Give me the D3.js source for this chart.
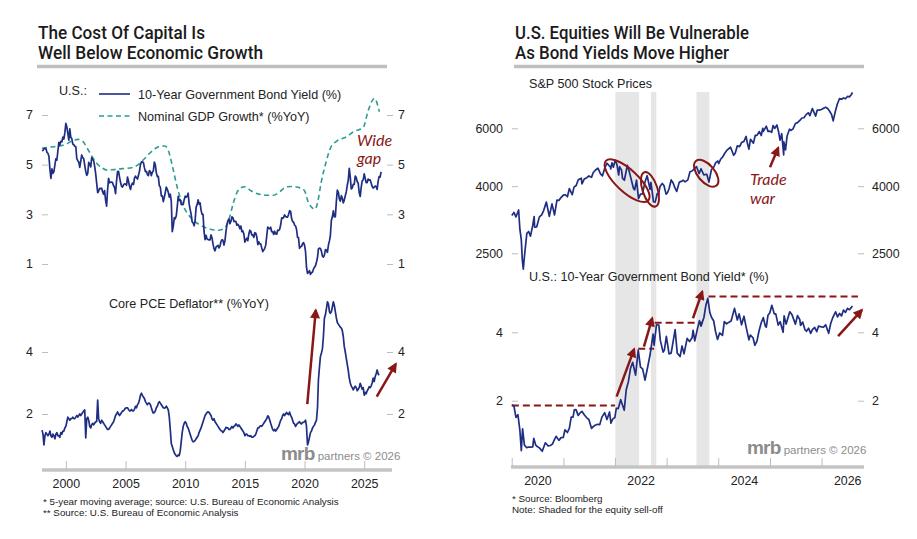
<!DOCTYPE html>
<html>
<head>
<meta charset="utf-8">
<script src="https://cdn.jsdelivr.net/npm/d3@7.9.0/dist/d3.min.js"></script>
<style>
  body { margin: 0; background: #fff; }
  svg { display: block; font-family: 'Liberation Sans', Arial, sans-serif; }
  .title { font-family: Roboto, 'Liberation Sans', sans-serif; font-weight: 500; font-size: 17.5px; fill: #1b1b1b; }
  .lbl { font-size: 12.6px; fill: #222; }
  .note { font-size: 9.8px; fill: #222; }
  .anno { font-family: Lato, 'Open Sans', sans-serif; font-style: italic; font-size: 16px; fill: #8a1717; }
</style>
</head>
<body>
<svg id="chart" width="917" height="539"></svg>
<script>
// ---------- data ----------
// U.S. 10-year Treasury yield, monthly from Jan 1998
const bondYieldMonthly = [
  5.56, 5.57, 5.65, 5.64, 5.65, 5.50, 5.46, 5.34, 4.81, 4.45, 4.83, 4.65,
  4.72, 5.00, 5.23, 5.18, 5.54, 5.90, 5.79, 5.94, 5.92, 6.11, 6.03, 6.28,
  6.66, 6.52, 6.26, 5.99, 6.44, 6.10, 6.05, 5.83, 5.80, 5.74, 5.72, 5.24,
  5.16, 5.10, 4.89, 5.14, 5.39, 5.28, 5.24, 4.97, 4.73, 4.57, 4.65, 5.09,
  5.04, 4.91, 5.28, 5.21, 5.16, 4.93, 4.65, 4.26, 3.87, 3.94, 4.05, 4.03,
  4.05, 3.90, 3.81, 3.96, 3.57, 3.33, 3.98, 4.45, 4.27, 4.29, 4.30, 4.27,
  4.15, 4.08, 3.83, 4.35, 4.72, 4.73, 4.50, 4.28, 4.13, 4.10, 4.19, 4.23,
  4.22, 4.17, 4.50, 4.34, 4.14, 4.00, 4.18, 4.26, 4.20, 4.46, 4.54, 4.47,
  4.42, 4.57, 4.72, 4.99, 5.11, 5.11, 5.09, 4.88, 4.72, 4.73, 4.60, 4.56,
  4.76, 4.72, 4.56, 4.69, 4.75, 5.10, 5.00, 4.67, 4.52, 4.53, 4.15, 4.10,
  3.74, 3.74, 3.51, 3.68, 3.88, 4.10, 4.01, 3.89, 3.69, 3.81, 3.53, 2.30,
  2.52, 2.87, 2.82, 2.93, 3.29, 3.72, 3.56, 3.59, 3.40, 3.39, 3.40, 3.59,
  3.73, 3.69, 3.73, 3.85, 3.42, 3.20, 3.01, 2.70, 2.65, 2.54, 2.76, 3.29,
  3.39, 3.58, 3.41, 3.46, 3.17, 3.00, 3.00, 2.30, 1.98, 2.15, 2.01, 1.98,
  1.97, 1.97, 2.17, 2.05, 1.80, 1.62, 1.53, 1.68, 1.72, 1.75, 1.65, 1.72,
  1.91, 1.98, 1.96, 1.76, 1.93, 2.30, 2.58, 2.74, 2.81, 2.62, 2.72, 2.90,
  2.86, 2.71, 2.72, 2.71, 2.56, 2.60, 2.54, 2.42, 2.53, 2.30, 2.33, 2.21,
  1.88, 1.98, 2.04, 1.94, 2.20, 2.36, 2.32, 2.17, 2.17, 2.07, 2.26, 2.24,
  2.09, 1.78, 1.89, 1.81, 1.81, 1.64, 1.50, 1.56, 1.63, 1.76, 2.14, 2.49,
  2.43, 2.42, 2.48, 2.30, 2.30, 2.19, 2.32, 2.21, 2.20, 2.36, 2.35, 2.40,
  2.58, 2.86, 2.84, 2.87, 2.98, 2.91, 2.89, 2.89, 3.00, 3.15, 3.12, 2.83,
  2.71, 2.68, 2.57, 2.53, 2.40, 2.07, 2.06, 1.63, 1.70, 1.71, 1.81, 1.86,
  1.76, 1.50, 0.87, 0.62, 0.67, 0.73, 0.58, 0.65, 0.68, 0.79, 0.87, 0.93,
  1.08, 1.26, 1.61, 1.64, 1.62, 1.52, 1.32, 1.28, 1.37, 1.58, 1.56, 1.47,
  1.76, 1.93, 2.13, 2.75, 2.90, 3.14, 2.90, 2.90, 3.52, 3.98, 3.89, 3.62,
  3.53, 3.75, 3.66, 3.46, 3.57, 3.75, 3.90, 4.17, 4.38, 4.85, 4.50, 4.02,
  4.06, 4.21, 4.21, 4.54, 4.48, 4.31, 4.25, 3.87, 3.72, 4.10, 4.36, 4.39,
  4.63, 4.45, 4.28, 4.28, 4.42, 4.38, 4.39, 4.26, 4.12, 4.06, 4.09, 4.14,
  4.12, 4.00, 4.33, 4.52, 4.50, 4.71
];

// nominal GDP growth, 5-year moving average (decimal year, %)
const gdpGrowth5y = [
  [1998.0, 5.66], [1998.5, 5.70], [1999.0, 5.72], [1999.5, 5.75], [2000.0, 5.82],
  [2000.5, 5.95], [2001.0, 6.02], [2001.4, 5.95], [2001.8, 5.65], [2002.2, 5.32],
  [2002.6, 5.05], [2003.0, 4.88], [2003.5, 4.78], [2004.0, 4.80], [2004.5, 4.83],
  [2005.0, 4.85], [2005.6, 4.89], [2006.0, 4.98], [2006.5, 5.20], [2007.0, 5.45],
  [2007.5, 5.65], [2008.0, 5.75], [2008.3, 5.75], [2008.6, 5.55], [2008.9, 5.00],
  [2009.3, 4.15], [2009.7, 3.50], [2010.1, 3.10], [2010.6, 2.80], [2011.2, 2.58],
  [2011.8, 2.45], [2012.3, 2.38], [2012.8, 2.36], [2013.3, 2.45], [2013.7, 2.85],
  [2014.0, 3.40], [2014.3, 3.84], [2014.7, 4.08], [2015.0, 4.11], [2015.5, 3.95],
  [2016.0, 3.84], [2016.8, 3.77], [2017.4, 3.77], [2017.9, 3.90], [2018.5, 4.11],
  [2019.0, 4.12], [2019.7, 4.05], [2020.0, 3.95], [2020.3, 3.50], [2020.6, 3.28],
  [2020.9, 3.21], [2021.1, 3.50], [2021.4, 4.30], [2021.8, 5.10], [2022.2, 5.70],
  [2022.7, 5.95], [2023.5, 6.12], [2024.2, 6.35], [2024.9, 6.48], [2025.35, 7.20],
  [2025.85, 7.67], [2026.27, 7.13]
];

// core PCE deflator, %YoY, monthly from Jan 1998
const corePce = [
  1.48, 1.35, 1.00, 1.30, 1.40, 1.35, 1.30, 1.35, 1.45, 1.30, 1.25, 1.35,
  1.30, 1.20, 1.35, 1.40, 1.30, 1.30, 1.25, 1.40, 1.35, 1.45, 1.45, 1.55,
  1.60, 1.75, 1.90, 1.85, 1.80, 1.85, 1.85, 1.90, 1.85, 1.85, 1.90, 1.95,
  1.90, 1.95, 2.00, 1.95, 2.00, 2.05, 2.10, 2.13, 1.23, 1.85, 1.90, 1.80,
  1.60, 1.55, 1.65, 1.70, 1.65, 1.70, 1.75, 1.75, 2.45, 1.85, 1.75, 1.70,
  1.80, 1.75, 1.70, 1.65, 1.60, 1.55, 1.50, 1.50, 1.55, 1.60, 1.65, 1.70,
  1.75, 1.85, 1.95, 2.00, 2.07, 2.00, 1.95, 2.00, 2.05, 2.10, 2.10, 2.15,
  2.19, 2.20, 2.20, 2.15, 2.10, 2.10, 2.15, 2.10, 2.10, 2.15, 2.25, 2.20,
  2.30, 2.35, 2.45, 2.60, 2.67, 2.60, 2.55, 2.50, 2.40, 2.35, 2.30, 2.35,
  2.35, 2.30, 2.20, 2.10, 2.03, 2.05, 2.10, 2.20, 2.25, 2.35, 2.40, 2.35,
  2.30, 2.25, 2.20, 2.19, 2.20, 2.25, 2.20, 2.13, 1.90, 1.50, 1.05, 0.95,
  0.85, 0.75, 0.70, 0.65, 0.63, 0.68, 0.66, 0.80, 1.10, 1.40, 1.60, 1.70,
  1.75, 1.70, 1.60, 1.55, 1.45, 1.35, 1.25, 1.15, 1.10, 1.12, 1.15, 1.20,
  1.25, 1.30, 1.40, 1.48, 1.55, 1.65, 1.75, 1.85, 1.95, 2.00, 2.05, 2.07,
  2.05, 2.00, 1.95, 1.84, 1.80, 1.85, 1.75, 1.70, 1.65, 1.60, 1.55, 1.50,
  1.46, 1.45, 1.40, 1.45, 1.50, 1.57, 1.55, 1.55, 1.50, 1.50, 1.55, 1.60,
  1.55, 1.60, 1.62, 1.68, 1.65, 1.60, 1.65, 1.60, 1.55, 1.50, 1.45, 1.40,
  1.30, 1.35, 1.35, 1.30, 1.30, 1.28, 1.30, 1.25, 1.25, 1.28, 1.30, 1.35,
  1.45, 1.55, 1.55, 1.60, 1.62, 1.60, 1.65, 1.70, 1.75, 1.80, 1.85, 1.94,
  1.90, 1.80, 1.70, 1.60, 1.50, 1.46, 1.50, 1.45, 1.50, 1.55, 1.60, 1.70,
  1.80, 1.85, 1.95, 2.00, 1.95, 2.00, 2.05, 2.00, 1.98, 2.06, 1.95, 1.90,
  1.80, 1.70, 1.68, 1.60, 1.65, 1.70, 1.72, 1.75, 1.70, 1.68, 1.73, 1.73,
  1.75, 1.80, 1.60, 1.00, 1.10, 1.25, 1.40, 1.45, 1.55, 1.60, 1.65, 1.73,
  1.80, 2.20, 3.10, 3.50, 3.85, 3.97, 4.10, 4.50, 5.10, 5.20, 5.40, 5.62,
  5.55, 5.30, 5.25, 5.30, 5.45, 5.62, 5.50, 5.30, 5.10, 4.95, 4.90, 4.85,
  4.80, 4.77, 4.70, 4.50, 4.18, 4.00, 3.80, 3.60, 3.40, 3.16, 3.00, 2.90,
  2.85, 2.78, 2.85, 2.90, 2.85, 2.75, 2.80, 2.85, 2.99, 2.90, 2.80, 2.85,
  2.61, 2.70, 2.65, 2.75, 2.80, 2.88, 2.85, 2.90, 3.00, 3.16, 3.05, 3.20,
  3.30, 3.42, 3.30, 3.25
];

// S&P 500 index level
const spx = [
  ['2020-01-02', 3258], ['2020-01-17', 3330], ['2020-01-31', 3225], ['2020-02-19', 3386],
  ['2020-02-28', 2954], ['2020-03-09', 2747], ['2020-03-16', 2386], ['2020-03-23', 2237],
  ['2020-04-01', 2470], ['2020-04-17', 2875], ['2020-04-30', 2912], ['2020-05-13', 2820],
  ['2020-05-29', 3044], ['2020-06-08', 3232], ['2020-06-11', 3002], ['2020-06-26', 3009],
  ['2020-07-15', 3227], ['2020-07-31', 3271], ['2020-08-14', 3373], ['2020-09-02', 3580],
  ['2020-09-23', 3237], ['2020-10-12', 3534], ['2020-10-30', 3270], ['2020-11-16', 3627],
  ['2020-11-30', 3622], ['2020-12-15', 3694], ['2020-12-31', 3756],
  ['2021-01-15', 3768], ['2021-01-29', 3714], ['2021-02-12', 3934], ['2021-03-04', 3768],
  ['2021-03-17', 3974], ['2021-04-01', 4020], ['2021-04-16', 4185], ['2021-05-07', 4232],
  ['2021-05-12', 4063], ['2021-05-28', 4204], ['2021-06-15', 4246], ['2021-06-30', 4297],
  ['2021-07-19', 4258], ['2021-07-30', 4395], ['2021-08-16', 4479], ['2021-09-02', 4537],
  ['2021-09-20', 4358], ['2021-10-04', 4300], ['2021-10-21', 4549], ['2021-11-05', 4697],
  ['2021-11-30', 4567], ['2021-12-01', 4513], ['2021-12-10', 4712], ['2021-12-20', 4568],
  ['2021-12-31', 4766],
  ['2022-01-03', 4796], ['2022-01-14', 4662], ['2022-01-27', 4326], ['2022-02-02', 4589],
  ['2022-02-16', 4475], ['2022-02-23', 4225], ['2022-03-08', 4170], ['2022-03-29', 4631],
  ['2022-04-14', 4392], ['2022-04-29', 4132], ['2022-05-12', 3930], ['2022-05-20', 3901],
  ['2022-06-02', 4176], ['2022-06-16', 3667], ['2022-06-30', 3785], ['2022-07-14', 3790],
  ['2022-08-01', 4118], ['2022-08-16', 4305], ['2022-09-06', 3908], ['2022-09-12', 4110],
  ['2022-09-30', 3586], ['2022-10-12', 3577], ['2022-10-27', 3807], ['2022-11-04', 3770],
  ['2022-11-15', 3991], ['2022-12-01', 4076], ['2022-12-13', 4019], ['2022-12-28', 3783],
  ['2023-01-05', 3808], ['2023-01-18', 3928], ['2023-02-02', 4179], ['2023-02-16', 4090],
  ['2023-03-01', 3951], ['2023-03-13', 3855], ['2023-03-31', 4109], ['2023-04-14', 4137],
  ['2023-04-28', 4169], ['2023-05-12', 4124], ['2023-05-31', 4180], ['2023-06-15', 4425],
  ['2023-06-30', 4450], ['2023-07-14', 4505], ['2023-07-31', 4589], ['2023-08-18', 4370],
  ['2023-09-01', 4515], ['2023-09-21', 4330], ['2023-10-12', 4349], ['2023-10-27', 4117],
  ['2023-11-14', 4496], ['2023-11-30', 4568], ['2023-12-14', 4719], ['2023-12-29', 4770],
  ['2024-01-04', 4688], ['2024-01-19', 4840], ['2024-02-01', 4906], ['2024-02-15', 5029],
  ['2024-03-01', 5137], ['2024-03-28', 5254], ['2024-04-19', 4967], ['2024-04-30', 5036],
  ['2024-05-15', 5308], ['2024-05-31', 5278], ['2024-06-14', 5431], ['2024-07-01', 5475],
  ['2024-07-16', 5667], ['2024-07-25', 5400], ['2024-08-05', 5186], ['2024-08-16', 5554],
  ['2024-09-06', 5408], ['2024-09-19', 5713], ['2024-10-01', 5709], ['2024-10-18', 5865],
  ['2024-10-31', 5705], ['2024-11-11', 6001], ['2024-11-15', 5870], ['2024-12-06', 6090],
  ['2024-12-18', 5872], ['2024-12-31', 5882],
  ['2025-01-13', 5836], ['2025-01-23', 6119], ['2025-02-03', 5994], ['2025-02-19', 6144],
  ['2025-03-03', 5849], ['2025-03-13', 5521], ['2025-03-25', 5777], ['2025-04-08', 4982],
  ['2025-04-09', 5457], ['2025-04-21', 5158], ['2025-05-02', 5687], ['2025-05-19', 5963],
  ['2025-05-30', 5912], ['2025-06-13', 5977], ['2025-06-30', 6205], ['2025-07-15', 6244],
  ['2025-07-31', 6339], ['2025-08-15', 6449], ['2025-08-29', 6460], ['2025-09-15', 6615],
  ['2025-09-30', 6688], ['2025-10-10', 6553], ['2025-10-28', 6890], ['2025-11-20', 6538],
  ['2025-12-01', 6812], ['2025-12-15', 6816], ['2025-12-31', 6845],
  ['2026-01-15', 6900], ['2026-01-30', 6950], ['2026-02-13', 6890], ['2026-02-27', 6760],
  ['2026-03-13', 6600], ['2026-03-24', 6320], ['2026-04-08', 6750], ['2026-04-22', 7100],
  ['2026-05-08', 7390], ['2026-05-22', 7350], ['2026-06-05', 7420], ['2026-06-19', 7380],
  ['2026-07-03', 7500], ['2026-07-17', 7480], ['2026-07-31', 7600], ['2026-08-07', 7720]
];

// U.S. 10-year yield, higher frequency for 2020 onward
const bondYield = [
  ['2020-01-02', 1.88], ['2020-01-17', 1.84], ['2020-01-31', 1.51], ['2020-02-14', 1.59],
  ['2020-02-28', 1.13], ['2020-03-09', 0.54], ['2020-03-18', 1.18], ['2020-03-31', 0.70],
  ['2020-04-15', 0.63], ['2020-04-30', 0.64], ['2020-05-15', 0.64], ['2020-05-29', 0.65],
  ['2020-06-05', 0.90], ['2020-06-19', 0.70], ['2020-06-30', 0.66], ['2020-07-15', 0.62],
  ['2020-08-04', 0.52], ['2020-08-26', 0.77], ['2020-09-15', 0.68], ['2020-09-30', 0.69],
  ['2020-10-15', 0.73], ['2020-10-30', 0.87], ['2020-11-10', 0.96], ['2020-11-30', 0.84],
  ['2020-12-15', 0.92], ['2020-12-31', 0.93],
  ['2021-01-12', 1.15], ['2021-01-29', 1.07], ['2021-02-12', 1.20], ['2021-02-25', 1.52],
  ['2021-03-10', 1.52], ['2021-03-19', 1.73], ['2021-03-31', 1.74], ['2021-04-15', 1.57],
  ['2021-04-30', 1.65], ['2021-05-12', 1.69], ['2021-05-28', 1.59], ['2021-06-15', 1.50],
  ['2021-06-30', 1.45], ['2021-07-19', 1.19], ['2021-07-30', 1.24], ['2021-08-13', 1.28],
  ['2021-08-31', 1.31], ['2021-09-15', 1.30], ['2021-09-30', 1.52], ['2021-10-20', 1.65],
  ['2021-11-05', 1.45], ['2021-11-23', 1.67], ['2021-12-03', 1.34], ['2021-12-15', 1.46],
  ['2021-12-31', 1.51],
  ['2022-01-10', 1.78], ['2022-01-24', 1.77], ['2022-02-10', 2.03], ['2022-03-07', 1.72],
  ['2022-03-21', 2.32], ['2022-04-05', 2.55], ['2022-04-20', 2.94], ['2022-05-06', 3.12],
  ['2022-05-26', 2.75], ['2022-06-14', 3.48], ['2022-06-30', 2.98], ['2022-07-15', 2.93],
  ['2022-08-01', 2.60], ['2022-08-22', 3.03], ['2022-09-06', 3.35], ['2022-09-27', 3.95],
  ['2022-10-04', 3.62], ['2022-10-21', 4.22], ['2022-11-07', 4.21], ['2022-11-17', 3.77],
  ['2022-12-07', 3.42], ['2022-12-16', 3.48], ['2022-12-30', 3.88],
  ['2023-01-18', 3.37], ['2023-02-02', 3.39], ['2023-03-02', 4.08], ['2023-03-17', 3.39],
  ['2023-04-06', 3.29], ['2023-04-20', 3.60], ['2023-05-04', 3.37], ['2023-05-26', 3.82],
  ['2023-06-12', 3.73], ['2023-06-30', 3.84], ['2023-07-07', 4.06], ['2023-07-19', 3.75],
  ['2023-08-04', 4.05], ['2023-08-21', 4.34], ['2023-09-01', 4.18], ['2023-09-22', 4.44],
  ['2023-10-06', 4.80], ['2023-10-19', 4.99], ['2023-11-03', 4.57], ['2023-11-14', 4.44],
  ['2023-11-30', 4.33], ['2023-12-13', 4.02], ['2023-12-27', 3.79],
  ['2024-01-11', 3.98], ['2024-01-31', 3.91], ['2024-02-13', 4.31], ['2024-02-29', 4.25],
  ['2024-03-14', 4.29], ['2024-04-01', 4.33], ['2024-04-25', 4.70], ['2024-05-15', 4.36],
  ['2024-05-28', 4.54], ['2024-06-14', 4.22], ['2024-07-01', 4.47], ['2024-07-16', 4.16],
  ['2024-08-05', 3.78], ['2024-08-15', 3.92], ['2024-09-03', 3.84], ['2024-09-16', 3.62],
  ['2024-10-01', 3.74], ['2024-10-15', 4.03], ['2024-10-31', 4.28], ['2024-11-15', 4.43],
  ['2024-11-29', 4.18], ['2024-12-06', 4.15], ['2024-12-18', 4.50], ['2024-12-31', 4.57],
  ['2025-01-14', 4.79], ['2025-01-31', 4.54], ['2025-02-11', 4.54], ['2025-02-28', 4.21],
  ['2025-03-14', 4.31], ['2025-04-04', 4.00], ['2025-04-11', 4.48], ['2025-04-25', 4.24],
  ['2025-05-21', 4.60], ['2025-06-06', 4.51], ['2025-06-30', 4.24], ['2025-07-15', 4.49],
  ['2025-07-31', 4.37], ['2025-08-05', 4.20], ['2025-08-20', 4.30], ['2025-09-05', 4.08],
  ['2025-09-16', 4.03], ['2025-10-01', 4.12], ['2025-10-16', 3.97], ['2025-10-30', 4.09],
  ['2025-11-14', 4.14], ['2025-11-28', 4.02], ['2025-12-10', 4.18], ['2025-12-31', 4.16],
  ['2026-01-15', 4.15], ['2026-01-30', 4.22], ['2026-02-13', 4.05], ['2026-02-20', 3.97],
  ['2026-03-06', 4.25], ['2026-03-20', 4.42], ['2026-04-10', 4.60], ['2026-04-24', 4.45],
  ['2026-05-08', 4.55], ['2026-05-22', 4.48], ['2026-06-05', 4.65], ['2026-06-19', 4.58],
  ['2026-07-03', 4.70], ['2026-07-17', 4.66], ['2026-07-31', 4.73], ['2026-08-07', 4.77]
];

// equity sell-off periods (shaded)
const selloffs = [['2022-01-03', '2022-06-20'], ['2022-09-12', '2022-10-20'], ['2023-07-31', '2023-10-30']];
// previous yield highs (dashed)
const yieldHighs = [
  ['2020-01-02', '2022-01-01', 1.86], ['2022-06-14', '2022-10-04', 3.52],
  ['2022-10-08', '2023-09-12', 4.28], ['2023-10-24', '2026-09-15', 5.05]
];

const leftYearTicks = [2000, 2005, 2010, 2015, 2020, 2025];
const rightYearTicks = [2020, 2021, 2022, 2023, 2024, 2025, 2026];
const rightYearLabels = [2020, 2022, 2024, 2026];
const yieldTicksTop = [1, 3, 5, 7];
const pceTicks = [2, 4];
const spxTicks = [2500, 4000, 6000];
const bondTicksRight = [2, 4];

// ---------- helpers ----------
const navy = '#1f2e82', teal = '#2e9c92', red = '#8a1717', tickGray = '#bdbdbd', barGray = '#c4c4c4';
const parse = d3.timeParse('%Y-%m-%d');
const fmt = d3.format('d');
const decYear = (y) => {
  const yr = Math.floor(y);
  const a = new Date(yr, 0, 1), b = new Date(yr + 1, 0, 1);
  return new Date(+a + (y - yr) * (b - a));
};
const monthly = (arr, startYear) => arr.map((v, i) => ({ date: new Date(startYear, i, 1), value: v }));
const dated = (arr) => arr.map(([d, v]) => ({ date: parse(d), value: v }));

const svg = d3.select('#chart');
svg.append('rect').attr('width', 917).attr('height', 539).attr('fill', '#fff');

const defs = svg.append('defs');
defs.append('marker')
  .attr('id', 'head')
  .attr('markerUnits', 'userSpaceOnUse')
  .attr('viewBox', '0 0 10 10')
  .attr('markerWidth', 11).attr('markerHeight', 10)
  .attr('refX', 8).attr('refY', 5)
  .attr('orient', 'auto')
  .append('path').attr('d', 'M0,0 L10,5 L0,10 z').attr('fill', red);

function styleAxis(g) {
  g.select('.domain').remove();
  g.selectAll('.tick line').attr('stroke', tickGray);
  g.selectAll('.tick text').attr('fill', '#222').attr('font-size', 12.4);
}

function drawLine(data, x, y, color, width, dash, curve) {
  const line = d3.line().x((d) => x(d.date)).y((d) => y(d.value));
  if (curve) line.curve(curve);
  svg.append('path')
    .datum(data)
    .attr('d', line)
    .attr('fill', 'none')
    .attr('stroke', color)
    .attr('stroke-width', width)
    .attr('stroke-linejoin', 'round')
    .attr('stroke-dasharray', dash || null);
}

function arrow(x1, y1, x2, y2) {
  svg.append('line')
    .attr('x1', x1).attr('y1', y1).attr('x2', x2).attr('y2', y2)
    .attr('stroke', red).attr('stroke-width', 2.5)
    .attr('marker-end', 'url(#head)');
}

function logo(x, y) {
  const t = svg.append('text').attr('x', x).attr('y', y).attr('fill', '#8c8c8c');
  t.append('tspan').text('mrb').attr('font-size', 19).attr('font-weight', 'bold').attr('letter-spacing', -0.8);
  t.append('tspan').text(' partners © 2026').attr('font-size', 11.5);
}

// widths of the title lines
function header(x, x2, lines, widths) {
  lines.forEach((s, i) => {
    svg.append('text').attr('class', 'title')
      .attr('x', x).attr('y', 39 + i * 20)
      .attr('textLength', widths[i]).attr('lengthAdjust', 'spacingAndGlyphs')
      .text(s);
  });
  svg.append('line').attr('x1', x - 1).attr('x2', x2).attr('y1', 66.5).attr('y2', 66.5)
    .attr('stroke', '#bfbfbf').attr('stroke-width', 3.5);
}

// ---------- left panel ----------
header(38, 387, ['The Cost Of Capital Is', 'Well Below Economic Growth'], [167, 225]);

const xL = d3.scaleTime().domain([new Date(1998, 0, 1), new Date(2027, 4, 1)]).range([42, 392]);
const yTop = d3.scaleLinear().domain([1, 7]).range([264, 115]);
const yBot = d3.scaleLinear().domain([2, 4]).range([414, 352]);

svg.append('g').attr('transform', 'translate(48,0)')
  .call(d3.axisLeft(yTop).tickValues(yieldTicksTop).tickFormat(fmt).tickSize(6).tickPadding(9)).call(styleAxis);
svg.append('g').attr('transform', 'translate(387,0)')
  .call(d3.axisRight(yTop).tickValues(yieldTicksTop).tickFormat(fmt).tickSize(6).tickPadding(5)).call(styleAxis);
svg.append('g').attr('transform', 'translate(48,0)')
  .call(d3.axisLeft(yBot).tickValues(pceTicks).tickFormat(fmt).tickSize(6).tickPadding(9)).call(styleAxis);
svg.append('g').attr('transform', 'translate(387,0)')
  .call(d3.axisRight(yBot).tickValues(pceTicks).tickFormat(fmt).tickSize(6).tickPadding(5)).call(styleAxis);

drawLine(gdpGrowth5y.map(([y, v]) => ({ date: decYear(y), value: v })), xL, yTop, teal, 1.6, '5,3.5', d3.curveMonotoneX);
drawLine(monthly(bondYieldMonthly, 1998), xL, yTop, navy, 1.7);
drawLine(monthly(corePce, 1998), xL, yBot, navy, 1.7);

// legend
svg.append('text').attr('class', 'lbl').attr('x', 59).attr('y', 95).text('U.S.:');
svg.append('line').attr('x1', 99).attr('x2', 130).attr('y1', 94).attr('y2', 94).attr('stroke', navy).attr('stroke-width', 1.6);
svg.append('text').attr('class', 'lbl').attr('x', 138).attr('y', 98.5).text('10-Year Government Bond Yield (%)');
svg.append('line').attr('x1', 99).attr('x2', 130).attr('y1', 116).attr('y2', 116).attr('stroke', teal).attr('stroke-width', 1.6).attr('stroke-dasharray', '5,3.5');
svg.append('text').attr('class', 'lbl').attr('x', 138).attr('y', 120.5).text('Nominal GDP Growth* (%YoY)');

svg.append('text').attr('class', 'anno').attr('x', 357).attr('y', 146).text('Wide');
svg.append('text').attr('class', 'anno').attr('x', 357).attr('y', 164).text('gap');

svg.append('text').attr('class', 'lbl').attr('x', 109).attr('y', 308).text('Core PCE Deflator** (%YoY)');

// inflation arrows
arrow(xL(decYear(2020.23)), yBot(2.32), xL(decYear(2020.94)), yBot(5.35));
arrow(xL(decYear(2026.05)), yBot(2.56), xL(decYear(2027.64)), yBot(3.61));

logo(281, 460);

// x axis
svg.append('line').attr('x1', 42).attr('x2', 392).attr('y1', 470).attr('y2', 470).attr('stroke', barGray).attr('stroke-width', 3.5);
svg.append('g').attr('transform', 'translate(0,470)')
  .call(d3.axisBottom(xL).tickValues(leftYearTicks.map((y) => new Date(y, 0, 1))).tickSizeInner(-9).tickSizeOuter(0).tickPadding(9).tickFormat(d3.timeFormat('%Y')))
  .call(styleAxis);

svg.append('text').attr('class', 'note').attr('x', 43).attr('y', 505).text('*  5-year moving average; source: U.S. Bureau of Economic Analysis');
svg.append('text').attr('class', 'note').attr('x', 43).attr('y', 516).text('** Source: U.S. Bureau of Economic Analysis');

// ---------- right panel ----------
header(515, 864, ['U.S. Equities Will Be Vulnerable', 'As Bond Yields Move Higher'], [234, 214]);

const xR = d3.scaleTime().domain([new Date(2020, 0, 1), new Date(2026, 9, 28)]).range([511.7, 864]);
const yS = d3.scaleLog().domain([2500, 6000]).range([253.3, 128.3]);
const yB = d3.scaleLinear().domain([2, 4]).range([400.7, 332.3]);

svg.append('g').selectAll('rect')
  .data(selloffs)
  .join('rect')
  .attr('x', (d) => xR(parse(d[0])))
  .attr('width', (d) => xR(parse(d[1])) - xR(parse(d[0])))
  .attr('y', 92)
  .attr('height', 466 - 92)
  .attr('fill', '#e6e6e6');

svg.append('g').attr('transform', 'translate(518,0)')
  .call(d3.axisLeft(yS).tickValues(spxTicks).tickFormat(fmt).tickSize(6).tickPadding(9)).call(styleAxis);
svg.append('g').attr('transform', 'translate(858,0)')
  .call(d3.axisRight(yS).tickValues(spxTicks).tickFormat(fmt).tickSize(6).tickPadding(8)).call(styleAxis);
svg.append('g').attr('transform', 'translate(518,0)')
  .call(d3.axisLeft(yB).tickValues(bondTicksRight).tickFormat(fmt).tickSize(6).tickPadding(9)).call(styleAxis);
svg.append('g').attr('transform', 'translate(858,0)')
  .call(d3.axisRight(yB).tickValues(bondTicksRight).tickFormat(fmt).tickSize(6).tickPadding(8)).call(styleAxis);

svg.append('text').attr('class', 'lbl').attr('x', 529).attr('y', 88).text('S&P 500 Stock Prices');
svg.append('text').attr('class', 'lbl').attr('x', 529).attr('y', 281).text('U.S.: 10-Year Government Bond Yield* (%)');

// prior-high dashes
yieldHighs.forEach(([a, b, v]) => {
  svg.append('line')
    .attr('x1', xR(parse(a))).attr('x2', xR(parse(b)))
    .attr('y1', yB(v)).attr('y2', yB(v))
    .attr('stroke', red).attr('stroke-width', 2).attr('stroke-dasharray', '7,4');
});

drawLine(dated(spx), xR, yS, navy, 1.7);
drawLine(dated(bondYield), xR, yB, navy, 1.7);

// sell-off circles
const circles = [
  { date: '2022-03-27', value: 4157, rx: 29, ry: 11, angle: 43 },
  { date: '2022-09-05', value: 3913, rx: 18, ry: 7.5, angle: 72 },
  { date: '2023-10-08', value: 4378, rx: 16, ry: 8.5, angle: 50 }
];
circles.forEach((c) => {
  const cx = xR(parse(c.date)), cy = yS(c.value);
  svg.append('ellipse')
    .attr('cx', 0).attr('cy', 0).attr('rx', c.rx).attr('ry', c.ry)
    .attr('transform', `translate(${cx},${cy}) rotate(${c.angle})`)
    .attr('fill', 'none').attr('stroke', red).attr('stroke-width', 2);
});

arrow(xR(decYear(2025.0)), yS(4570), xR(decYear(2025.16)), yS(5236));
svg.append('text').attr('class', 'anno').attr('x', 750).attr('y', 185).text('Trade');
svg.append('text').attr('class', 'anno').attr('x', 750).attr('y', 204).text('war');

// yield arrows
arrow(xR(decYear(2022.03)), yB(2.12), xR(decYear(2022.37)), yB(3.51));
arrow(xR(decYear(2022.56)), yB(3.58), xR(decYear(2022.72)), yB(4.41));
arrow(xR(decYear(2023.51)), yB(4.41), xR(decYear(2023.69)), yB(5.19));
arrow(xR(decYear(2026.32)), yB(3.89), xR(decYear(2026.78)), yB(4.65));

logo(747, 454);

// x axis
svg.append('line').attr('x1', 511).attr('x2', 864).attr('y1', 467).attr('y2', 467).attr('stroke', barGray).attr('stroke-width', 3.5);
svg.append('g').attr('transform', 'translate(0,467)')
  .call(d3.axisBottom(xR).tickValues(rightYearTicks.map((y) => new Date(y, 0, 1))).tickSizeInner(-9).tickSizeOuter(0).tickFormat(''))
  .call(styleAxis);
svg.append('g').attr('transform', 'translate(0,467)')
  .call(d3.axisBottom(xR).tickValues(rightYearLabels.map((y) => new Date(y, 6, 1))).tickSize(0).tickPadding(9).tickFormat(d3.timeFormat('%Y')))
  .call(styleAxis);

svg.append('text').attr('class', 'note').attr('x', 512).attr('y', 502).text('* Source: Bloomberg');
svg.append('text').attr('class', 'note').attr('x', 512).attr('y', 513).text('Note: Shaded for the equity sell-off');
</script>
</body>
</html>
